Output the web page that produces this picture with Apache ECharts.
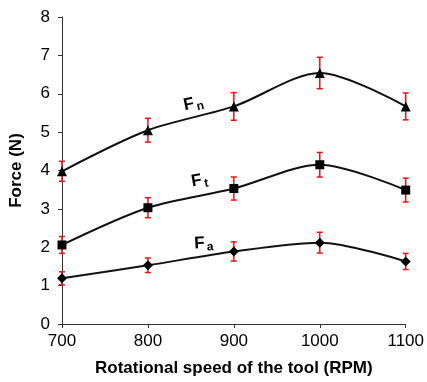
<!DOCTYPE html>
<html>
<head>
<meta charset="utf-8">
<script src="https://cdn.jsdelivr.net/npm/echarts@6/dist/echarts.min.js"></script>
<style>
  html, body { margin: 0; padding: 0; background: #fff; }
  #chart { width: 427px; height: 382px; }
</style>
</head>
<body>
<div id="chart"></div>
<script>
// rotational speed (RPM)
const speeds = [700, 800, 900, 1000, 1100]
// forces (N) and their error bars
const fn = [3.98, 5.05, 5.67, 6.54, 5.67]
const fnErr = [0.26, 0.31, 0.36, 0.41, 0.35]
const ft = [2.06, 3.03, 3.53, 4.15, 3.49]
const ftErr = [0.22, 0.26, 0.3, 0.32, 0.31]
const fa = [1.19, 1.53, 1.89, 2.12, 1.63]
const faErr = [0.17, 0.19, 0.25, 0.27, 0.21]
const yTicks = [0, 1, 2, 3, 4, 5, 6, 7, 8]

const chart = echarts.init(document.getElementById('chart'))
const font = 'Liberation Sans, Arial, sans-serif'

const pairs = vals => speeds.map((s, i) => [s, vals[i]])

// line series with markers and an F label near the curve
function forceLine(name, vals, symbol, size, lab) {
  return {
    name: name,
    type: 'line',
    data: pairs(vals),
    smooth: 0.3,
    symbol: symbol,
    symbolSize: size,
    lineStyle: { color: '#111', width: 2 },
    itemStyle: { color: '#000' },
    z: 3,
    markPoint: {
      symbol: 'circle',
      symbolSize: 1,
      itemStyle: { color: 'rgba(0,0,0,0)' },
      data: [{
        coord: lab.coord,
        label: {
          show: true,
          position: 'inside',
          rotate: lab.rot,
          formatter: '{f|F}{s|' + lab.sub + '}',
          rich: {
            f: { fontFamily: font, fontWeight: 'bold', fontSize: 17, color: '#000' },
            s: { fontFamily: font, fontWeight: 'bold', fontSize: 12, color: '#000', padding: [8, 0, 0, 2] }
          }
        }
      }]
    }
  }
}

// red error bars with caps
function errBars(vals, errs) {
  return {
    type: 'custom',
    z: 2,
    data: speeds.map((s, i) => [s, vals[i] - errs[i], vals[i] + errs[i]]),
    renderItem: function (params, api) {
      const lo = api.coord([api.value(0), api.value(1)])
      const hi = api.coord([api.value(0), api.value(2)])
      const w = 3
      const st = { stroke: '#ee1111', lineWidth: 1.5 }
      return {
        type: 'group',
        children: [
          { type: 'line', shape: { x1: lo[0], y1: lo[1], x2: hi[0], y2: hi[1] }, style: st },
          { type: 'line', shape: { x1: lo[0] - w, y1: lo[1], x2: lo[0] + w, y2: lo[1] }, style: st },
          { type: 'line', shape: { x1: hi[0] - w, y1: hi[1], x2: hi[0] + w, y2: hi[1] }, style: st }
        ]
      }
    }
  }
}

const option = {
  animation: false,
  grid: { left: 61, right: 20, top: 17, bottom: 57 },
  xAxis: {
    type: 'value',
    min: 700,
    max: 1100,
    interval: 100,
    name: 'Rotational speed of the tool (RPM)',
    nameLocation: 'middle',
    nameGap: 36,
    nameTextStyle: { fontFamily: font, fontWeight: 'bold', fontSize: 17, color: '#000' },
    axisLine: { lineStyle: { color: '#333', width: 1 } },
    axisTick: { show: true, length: 4, lineStyle: { color: '#333' } },
    axisLabel: { fontFamily: font, fontSize: 17, color: '#000', margin: 9, formatter: v => String(v) },
    splitLine: { show: false }
  },
  yAxis: {
    type: 'value',
    min: yTicks[0],
    max: yTicks[yTicks.length - 1],
    interval: 1,
    name: 'Force (N)',
    nameLocation: 'middle',
    nameGap: 37,
    nameRotate: 90,
    nameTextStyle: { fontFamily: font, fontWeight: 'bold', fontSize: 17, color: '#000' },
    axisLine: { show: true, lineStyle: { color: '#333', width: 1 } },
    axisTick: { show: true, length: 4, lineStyle: { color: '#333' } },
    axisLabel: { fontFamily: font, fontSize: 17, color: '#000', margin: 12 },
    splitLine: { show: false }
  },
  series: [
    errBars(fn, fnErr),
    errBars(ft, ftErr),
    errBars(fa, faErr),
    forceLine('Fn', fn, 'triangle', 10, { coord: [853, 5.74], sub: 'n', rot: 12 }),
    forceLine('Ft', ft, 'rect', 9, { coord: [860, 3.74], sub: 't', rot: 10 }),
    forceLine('Fa', fa, 'diamond', 10, { coord: [865, 2.1], sub: 'a', rot: 3 })
  ]
}

chart.setOption(option)
</script>
</body>
</html>
